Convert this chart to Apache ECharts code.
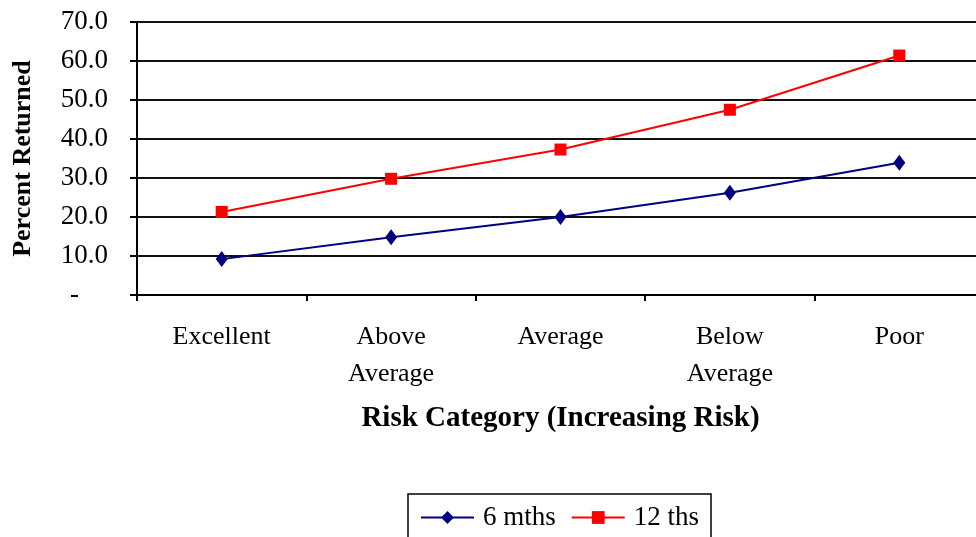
<!DOCTYPE html>
<html>
<head>
<meta charset="utf-8">
<script src="https://cdn.jsdelivr.net/npm/echarts@6/dist/echarts.min.js"></script>
<style>
html,body{margin:0;padding:0;background:#fff;overflow:hidden;width:976px;height:537px;}
#chart{width:984px;height:537px;}
</style>
</head>
<body>
<div id="chart"></div>
<script>
var categories = ['Excellent', 'Above Average', 'Average', 'Below Average', 'Poor'];
var sixMonths = [9.2, 14.8, 20.0, 26.2, 33.9];
var twelveMonths = [21.3, 29.8, 37.3, 47.5, 61.4];
var seriesNames = ['6 mths', '12 ths'];
var xTitle = 'Risk Category (Increasing Risk)';
var yTitle = 'Percent Returned';

var FONT = '"Liberation Serif", "Times New Roman", serif';
var chart = echarts.init(document.getElementById('chart'));
chart.setOption({
  backgroundColor: '#fff',
  animation: false,
  grid: {left: 137, top: 22, width: 847, height: 273, containLabel: false},
  legend: {
    data: seriesNames,
    left: 408, top: 494,
    orient: 'horizontal',
    itemWidth: 53, itemHeight: 16, itemGap: 15,
    padding: [10, 12, 10, 12],
    borderColor: '#000', borderWidth: 1.5,
    backgroundColor: '#fff',
    textStyle: {fontFamily: FONT, fontSize: 27, color: '#000', padding: [0, 0, 0, 4]}
  },
  xAxis: {
    type: 'category',
    data: categories,
    boundaryGap: true,
    name: xTitle,
    nameLocation: 'middle',
    nameGap: 109,
    nameTextStyle: {fontFamily: FONT, fontSize: 29, fontWeight: 'bold', color: '#000'},
    axisLine: {show: true, lineStyle: {color: '#000', width: 2}},
    axisTick: {show: true, length: 6, interval: 0, lineStyle: {color: '#000', width: 2}},
    axisLabel: {
      interval: 0, margin: 24,
      fontFamily: FONT, fontSize: 26, color: '#000', lineHeight: 37,
      formatter: function (v) { return v.replace(' ', '\n'); }
    },
    splitLine: {show: false}
  },
  yAxis: {
    type: 'value',
    min: 0, max: 70, interval: 10,
    name: yTitle,
    nameLocation: 'middle',
    nameGap: 101,
    nameTextStyle: {fontFamily: FONT, fontSize: 26, fontWeight: 'bold', color: '#000'},
    axisLine: {show: true, lineStyle: {color: '#000', width: 2}},
    axisTick: {show: true, length: 7, lineStyle: {color: '#000', width: 2}},
    axisLabel: {
      margin: 29,
      fontFamily: FONT, fontSize: 27, color: '#000',
      formatter: function (v) { return v === 0 ? '{d|-}' : v.toFixed(1); },
      rich: {d: {fontFamily: FONT, fontSize: 27, color: '#000', padding: [0, 29, 0, 0]}}
    },
    splitLine: {show: true, lineStyle: {color: '#111', width: 2}}
  },
  series: [
    {
      name: seriesNames[0], type: 'line', data: sixMonths,
      symbol: 'diamond', symbolSize: [12, 16],
      itemStyle: {color: '#000080'},
      lineStyle: {color: '#000080', width: 2}
    },
    {
      name: seriesNames[1], type: 'line', data: twelveMonths,
      symbol: 'rect', symbolSize: 12,
      itemStyle: {color: '#ff0000'},
      lineStyle: {color: '#ff0000', width: 2}
    }
  ]
});
</script>
</body>
</html>
